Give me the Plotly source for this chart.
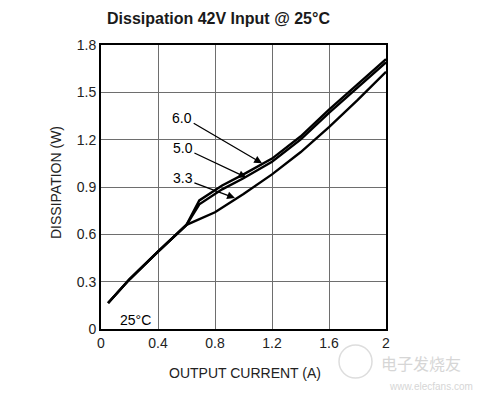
import plotly.graph_objects as go

# Data
x_60 = [0.05, 0.2, 0.4, 0.6, 0.69, 0.85, 1.0, 1.2, 1.4, 1.6, 1.8, 2.0]
y_60 = [0.165, 0.315, 0.49, 0.66, 0.815, 0.91, 0.98, 1.08, 1.22, 1.39, 1.55, 1.71]
x_50 = [0.05, 0.2, 0.4, 0.6, 0.69, 0.85, 1.0, 1.2, 1.4, 1.6, 1.8, 2.0]
y_50 = [0.165, 0.315, 0.49, 0.66, 0.79, 0.885, 0.955, 1.06, 1.20, 1.37, 1.53, 1.69]
x_33 = [0.05, 0.2, 0.4, 0.6, 0.8, 1.0, 1.2, 1.4, 1.6, 1.8, 2.0]
y_33 = [0.165, 0.315, 0.49, 0.66, 0.74, 0.855, 0.98, 1.12, 1.28, 1.45, 1.63]

x_ticks = [0, 0.4, 0.8, 1.2, 1.6, 2]
x_tick_labels = ["0", "0.4", "0.8", "1.2", "1.6", "2"]
y_ticks = [0, 0.3, 0.6, 0.9, 1.2, 1.5, 1.8]
y_tick_labels = ["0", "0.3", "0.6", "0.9", "1.2", "1.5", "1.8"]

series_labels = ["6.0", "5.0", "3.3"]
label_pos = [(0.57, 1.34), (0.575, 1.15), (0.575, 0.96)]
arrow_tail = [(0.64, 1.31), (0.645, 1.12), (0.645, 0.93)]
arrow_tip = [(1.13, 1.05), (1.02, 0.96), (0.94, 0.83)]

FONT = "Liberation Sans, Arial, sans-serif"

# plot area in reference pixels; page has an 8px body margin
PL, PR, PT, PB = 101, 386, 45, 329
PW, PH = PR - PL, PB - PT
OFF = 8
W, H = 484 - OFF, 394 - OFF


def px(xp):
    return (xp - PL) / PW


def py(yp):
    return (PB - yp) / PH


fig = go.Figure()
for xs, ys, name in [(x_60, y_60, "6.0"), (x_50, y_50, "5.0"), (x_33, y_33, "3.3")]:
    fig.add_trace(go.Scatter(x=xs, y=ys, mode="lines", name=name,
                             line=dict(color="black", width=2.4),
                             showlegend=False))

annotations = []
for lab, (tx, ty), (ax, ay), (hx, hy) in zip(series_labels, label_pos, arrow_tail, arrow_tip):
    annotations.append(dict(x=tx, y=ty, xref="x", yref="y", text=lab, showarrow=False,
                            xanchor="center", yanchor="middle",
                            font=dict(family=FONT, size=14, color="black")))
    annotations.append(dict(x=hx, y=hy, xref="x", yref="y", ax=ax, ay=ay,
                            axref="x", ayref="y", text="", showarrow=True,
                            arrowhead=2, arrowsize=1.2, arrowwidth=1.3,
                            arrowcolor="black", standoff=0, startstandoff=0))

annotations.append(dict(x=0.24, y=0.06, xref="x", yref="y", text="25°C", showarrow=False,
                        xanchor="center", yanchor="middle",
                        font=dict(family=FONT, size=14, color="black")))
annotations.append(dict(x=px(56), y=py(183), xref="paper", yref="paper",
                        text="DISSIPATION (W)", textangle=-90, showarrow=False,
                        xanchor="center", yanchor="middle",
                        font=dict(family=FONT, size=14, color="#222")))
annotations.append(dict(x=px(245), y=py(373), xref="paper", yref="paper",
                        text="OUTPUT CURRENT (A)", showarrow=False,
                        xanchor="center", yanchor="middle",
                        font=dict(family=FONT, size=14, color="#222")))
annotations.append(dict(x=px(218), y=py(18), xref="paper", yref="paper",
                        text="<b>Dissipation 42V Input @ 25°C</b>", showarrow=False,
                        xanchor="center", yanchor="middle",
                        font=dict(family=FONT, size=16, color="#1a1a1a")))
# watermark
annotations.append(dict(x=px(421), y=py(363), xref="paper", yref="paper", text="电子发烧友",
                        showarrow=False, xanchor="center", yanchor="middle",
                        font=dict(family="Noto Sans CJK SC", size=16, color="#d6d6d6")))
annotations.append(dict(x=px(431), y=py(386), xref="paper", yref="paper", text="www.elecfans.com",
                        showarrow=False, xanchor="center", yanchor="middle",
                        font=dict(family=FONT, size=10, color="#d6d6d6")))

fig.update_layout(
    width=W, height=H,
    margin=dict(l=PL - OFF, r=W - (PR - OFF), t=PT - OFF, b=H - (PB - OFF), autoexpand=False),
    paper_bgcolor="white", plot_bgcolor="white",
    font=dict(family=FONT, size=14, color="#222"),
    annotations=annotations,
    shapes=[dict(type="circle", xref="paper", yref="paper",
                 x0=px(339), x1=px(372), y0=py(378), y1=py(345),
                 line=dict(color="#dddddd", width=1.5))],
)
fig.update_xaxes(range=[0, 2], tickvals=x_ticks, ticktext=x_tick_labels,
                 showgrid=True, gridcolor="#6e6e6e", gridwidth=1.2,
                 showline=True, linecolor="black", linewidth=2, mirror=True,
                 ticks="", zeroline=False, tickfont=dict(size=14, color="#222"))
fig.update_yaxes(range=[0, 1.8], tickvals=y_ticks, ticktext=y_tick_labels,
                 showgrid=True, gridcolor="#6e6e6e", gridwidth=1.2,
                 showline=True, linecolor="black", linewidth=2, mirror=True,
                 ticks="", zeroline=False, tickfont=dict(size=14, color="#222"))

fig.write_html("out.html")
